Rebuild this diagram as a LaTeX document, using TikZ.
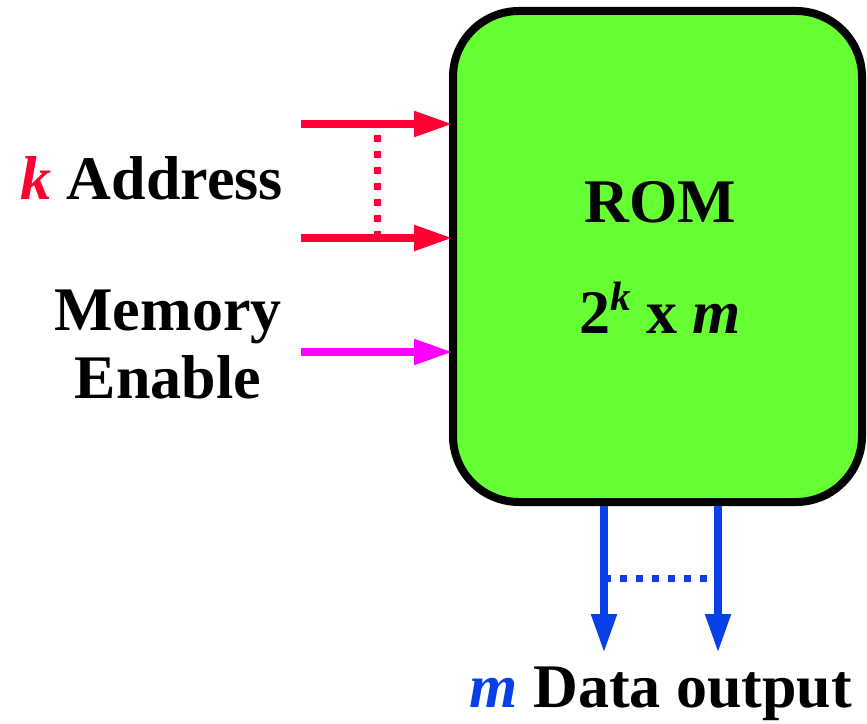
\documentclass[tikz,border=0pt]{standalone}
\usepackage{fontspec}
\setmainfont{Liberation Serif}
\usetikzlibrary{arrows.meta,positioning}
\definecolor{romGreen}{RGB}{102,255,51}
\definecolor{addrRed}{RGB}{255,0,51}
\definecolor{enableMagenta}{RGB}{255,0,255}
\definecolor{dataBlue}{RGB}{8,64,232}
\tikzstyle{diagram} = [x = 1bp, y = -1bp, font=\fontsize{62bp}{68bp}\selectfont\bfseries]
\tikzstyle{romBox} = [draw=black, fill=romGreen, line width=8bp, rounded corners = 66bp, minimum width=409bp, minimum height=491bp, inner sep=0pt, outer sep=0pt]
\tikzstyle{busArrow} = [line width=8bp, -{Triangle[length=39bp, width=24bp]}]
\tikzstyle{busDots} = [line width=7bp, dash pattern=on 7bp off 9bp]
\tikzstyle{sigText} = [inner sep=0pt]
\newcommand{\supK}{\raisebox{23bp}{\fontsize{41bp}{41bp}\selectfont\itshape k}}

\begin{document}
\begin{tikzpicture}[diagram]
  \useasboundingbox (0,0) rectangle (867,724);
  \node [romBox] (rom) at (657.5,256.5) {};
  \node [sigText, anchor=base] (romName) at (660,222) {ROM};
  \node [sigText, anchor=base] (romSize) at (660,333) {2\supK{} x \textit{m}};

  \coordinate (addrTop) at (301,124);
  \coordinate (addrBot) at (301,238);
  \coordinate (enIn) at (301,352);
  \draw [busArrow, addrRed] (addrTop) -- (addrTop -| rom.west);
  \draw [busArrow, addrRed] (addrBot) -- (addrBot -| rom.west);
  \draw [busArrow, enableMagenta] (enIn) -- (enIn -| rom.west);
  \coordinate (addrDotTop) at (377,135);
  \coordinate (addrDotBot) at (377,238);
  \draw [busDots, addrRed] (addrDotTop) -- (addrDotBot);

  \coordinate (dataLeft) at (604,653);
  \coordinate (dataRight) at (718,653);
  \draw [busArrow, dataBlue, shorten <=4bp] (rom.south -| dataLeft) -- (dataLeft);
  \draw [busArrow, dataBlue, shorten <=4bp] (rom.south -| dataRight) -- (dataRight);
  \coordinate (dataDotLeft) at (604,578);
  \coordinate (dataDotRight) at (718,578);
  \draw [busDots, dataBlue] (dataDotLeft) -- (dataDotRight);

  \node [sigText, anchor=base east] (addrText) at (283,199) {\textcolor{addrRed}{\itshape k} Address};
  \node [sigText, anchor=base, align=center] (enText) at (168,398) {Memory\\Enable};
  \node [sigText, anchor=base] (dataText) at (661,707) {\textcolor{dataBlue}{\itshape m} Data output};
\end{tikzpicture}
\end{document}
